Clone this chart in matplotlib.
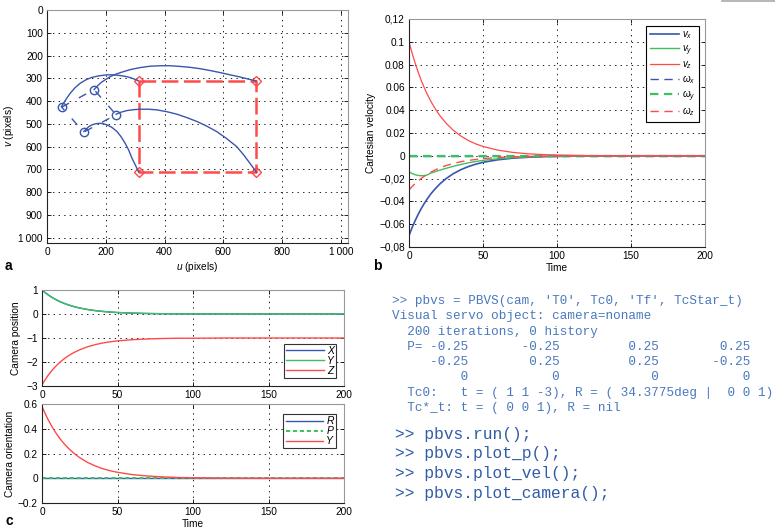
import numpy as np
import matplotlib.pyplot as plt
from matplotlib.lines import Line2D

plt.rcParams['font.family'] = ['Liberation Sans', 'DejaVu Sans']
plt.rcParams['mathtext.fontset'] = 'custom'
plt.rcParams['mathtext.rm'] = 'Liberation Sans'
plt.rcParams['mathtext.it'] = 'Liberation Sans:italic'
plt.rcParams['lines.scale_dashes'] = False
plt.rcParams['font.size'] = 7

# colores
azul = '#3a55ae'
verde = '#3cc060'
rojo = '#ff4a4a'

# ---- datos panel a (plano imagen) ----
p_final_u = [312, 712, 712, 312, 312]
p_final_v = [312, 312, 712, 712, 312]
p_ini_u = [50, 160, 235, 125, 50]
p_ini_v = [427, 350, 460, 537, 427]

tray1_u = [49, 55, 65, 79, 95, 113, 132, 153, 178, 204, 228, 249, 267, 283, 298, 312]
tray1_v = [425, 412, 392, 366, 342, 322, 307, 296, 289, 285, 285, 288, 292, 297, 304, 312]
tray2_u = [160, 172, 185, 200, 215, 232, 250, 283, 317, 351, 385, 419, 453, 487, 521, 555, 589,
           623, 652, 680, 712]
tray2_v = [350, 333, 318, 305, 293, 283, 275, 262, 253, 247, 245, 245, 248, 252, 258, 266, 275,
           285, 293, 302, 312]
tray3_u = [125, 133, 140, 147, 153, 162, 170, 181, 192, 204, 221, 238, 252, 266, 278, 289, 300, 312]
tray3_v = [534, 524, 515, 509, 505, 501, 499, 498, 500, 505, 516, 534, 557, 586, 616, 651, 680, 712]
tray4_u = [235, 252, 272, 295, 317, 345, 374, 408, 442, 476, 510, 543, 577, 611, 645, 668, 690, 712]
tray4_v = [458, 449, 442, 438, 436, 436, 439, 447, 458, 473, 490, 510, 534, 565, 600, 635, 673, 712]

# ---- datos panel b y c (tiempo) ----
t = [0, 2, 4, 6, 8, 10, 12, 15, 18, 21, 25, 30, 35, 40, 45, 50, 60, 70, 80, 90, 100, 120, 150, 200]
vx = [-0.07, -0.0633, -0.0573, -0.0519, -0.0469, -0.0425, -0.0384, -0.033, -0.0285, -0.0245, -0.0201,
      -0.0156, -0.0122, -0.0095, -0.0074, -0.0057, -0.0035, -0.0021, -0.0013, -0.0008, -0.0005, -0.0002, 0, 0]
vy = [-0.014, -0.0155, -0.0165, -0.0172, -0.0175, -0.0174, -0.017, -0.015, -0.0138, -0.0125, -0.011,
      -0.0092, -0.0076, -0.0062, -0.005, -0.004, -0.0026, -0.0016, -0.001, -0.0006, -0.0004, -0.0002, 0, 0]
vz = [0.1, 0.0905, 0.0819, 0.0741, 0.067, 0.0607, 0.0549, 0.0472, 0.0407, 0.035, 0.0287, 0.0223,
      0.0174, 0.0135, 0.0105, 0.0082, 0.005, 0.003, 0.0018, 0.0011, 0.0007, 0.0002, 0, 0]
wx = [0] * len(t)
wy = [0] * len(t)
wz = [-0.03, -0.0271, -0.0246, -0.0222, -0.0201, -0.0182, -0.0165, -0.0142, -0.0122, -0.0105, -0.0086,
      -0.0067, -0.0052, -0.0041, -0.0032, -0.0025, -0.0015, -0.0009, -0.0005, -0.0003, -0.0002, -0.0001, 0, 0]

pos_x = [1, 0.895, 0.801, 0.717, 0.641, 0.574, 0.513, 0.435, 0.368, 0.311, 0.249, 0.189,
         0.143, 0.108, 0.082, 0.062, 0.036, 0.020, 0.012, 0.007, 0.004, 0.001, 0, 0]
pos_y = pos_x
pos_z = [-2.95, -2.75, -2.56, -2.40, -2.25, -2.12, -2.00, -1.85, -1.72, -1.61, -1.49, -1.37,
         -1.28, -1.21, -1.16, -1.12, -1.07, -1.04, -1.02, -1.01, -1.01, -1.0, -1.0, -1.0]
ori_r = [0] * len(t)
ori_p = [0] * len(t)
ori_y = [0.58, 0.525, 0.475, 0.43, 0.389, 0.352, 0.318, 0.274, 0.236, 0.203, 0.166, 0.129,
         0.101, 0.078, 0.061, 0.048, 0.029, 0.018, 0.011, 0.006, 0.004, 0.001, 0, 0]

# texto de la consola
consola = [
    ">> pbvs = PBVS(cam, 'T0', Tc0, 'Tf', TcStar_t)",
    "Visual servo object: camera=noname",
    "  200 iterations, 0 history",
    "  P= -0.25       -0.25         0.25        0.25",
    "     -0.25        0.25         0.25       -0.25",
    "         0           0            0           0",
    "  Tc0:   t = ( 1 1 -3), R = ( 34.3775deg |  0 0 1)",
    "  Tc*_t: t = ( 0 0 1), R = nil",
]
comandos = [">> pbvs.run();", ">> pbvs.plot_p();", ">> pbvs.plot_vel();", ">> pbvs.plot_camera();"]

W, H = 775, 529


def caja(x0, y0, x1, y1):
    # caja en pixeles (arriba-izquierda) -> rect de figura
    return [x0 / W, 1 - y1 / H, (x1 - x0) / W, (y1 - y0) / H]


def estilo(ax):
    for s in ['left', 'bottom']:
        ax.spines[s].set_color('#222222')
    for s in ['top', 'right']:
        ax.spines[s].set_color('#999999')
    for s in ax.spines.values():
        s.set_linewidth(0.8)
    ax.tick_params(direction='in', length=3, width=0.6, top=True, right=True,
                   labelsize=7.3, pad=3)
    ax.grid(True, linestyle=(0, (1, 3)), color='k', linewidth=0.6)


fig = plt.figure(figsize=(7.75, 5.29), dpi=100)

# ---------------- panel a ----------------
ax = fig.add_axes(caja(47, 10, 348, 243))
ax.plot(p_final_u, p_final_v, color=rojo, lw=1.8, dashes=(12, 4))
ax.plot(p_final_u[:4], p_final_v[:4], 'D', mfc='none', mec=rojo, ms=5, mew=1)
ax.plot(p_ini_u, p_ini_v, color=azul, lw=1.0, dashes=(6, 8), dash_capstyle='butt')
ax.plot(p_ini_u[:4], p_ini_v[:4], 'o', mfc='none', mec=azul, ms=6, mew=1)
for uu, vv in [(tray1_u, tray1_v), (tray2_u, tray2_v), (tray3_u, tray3_v), (tray4_u, tray4_v)]:
    ax.plot(uu, vv, color=azul, lw=1.0)
ax.set_xlim(0, 1024)
ax.set_ylim(1024, 0)
ax.set_xticks([0, 200, 400, 600, 800, 1000])
ax.set_xticklabels(['0', '200', '400', '600', '800', '1\u2009000'])
ax.set_yticks(range(0, 1001, 100))
ax.set_yticklabels([str(v) for v in range(0, 901, 100)] + ['1\u2009000'])
estilo(ax)
ax.set_xlabel('$u$ (pixels)', fontsize=7.3, labelpad=2)
ax.set_ylabel('$v$ (pixels)', fontsize=7.3, labelpad=2)

# ---------------- panel b ----------------
ax = fig.add_axes(caja(409, 19, 705, 247))
ax.plot(t, wx, color=azul, lw=1.0, dashes=(6, 4), label=r'$\omega_x$')
ax.plot(t, wy, color=verde, lw=1.6, dashes=(6, 4), label=r'$\omega_y$')
ax.plot(t, vx, color=azul, lw=1.2, label='$v_x$')
ax.plot(t, vy, color=verde, lw=1.0, label='$v_y$')
ax.plot(t, vz, color=rojo, lw=0.9, label='$v_z$')
ax.plot(t, wz, color=rojo, lw=1.0, dashes=(6, 4), label=r'$\omega_z$')
ax.set_xlim(0, 200)
ax.set_ylim(-0.08, 0.12)
ax.set_xticks([0, 50, 100, 150, 200])
yt = [-0.08, -0.06, -0.04, -0.02, 0, 0.02, 0.04, 0.06, 0.08, 0.1, 0.12]
ax.set_yticks(yt)
ax.set_yticklabels(['\u22120,08', '\u22120.06', '\u22120.04', '\u22120,02', '0', '0.02',
                    '0.04', '0.06', '0.08', '0.1', '0,12'])
estilo(ax)
ax.set_xlabel('Time', fontsize=7.3, labelpad=1)
ax.set_ylabel('Cartesian velocity', fontsize=7.3, labelpad=2)
hnd, lab = ax.get_legend_handles_labels()
orden = [2, 3, 4, 0, 1, 5]
leg = ax.legend([hnd[i] for i in orden], [lab[i] for i in orden], loc='upper right',
                bbox_to_anchor=(0.995, 0.99), fontsize=7, fancybox=False, edgecolor='k',
                framealpha=1, handlelength=3.0, labelspacing=0.2, borderpad=0.35,
                handletextpad=0.3)
leg.get_frame().set_linewidth(0.8)

# ---------------- panel c (posicion) ----------------
ax = fig.add_axes(caja(42, 290, 344, 386))
ax.plot(t, pos_x, color=azul, lw=1.0, label='X')
ax.plot(t, pos_y, color=verde, lw=1.0, label='Y')
ax.plot(t, pos_z, color=rojo, lw=1.0, label='Z')
ax.set_xlim(0, 200)
ax.set_ylim(-3, 1)
ax.set_xticks([0, 50, 100, 150, 200])
ax.set_yticks([-3, -2, -1, 0, 1])
ax.set_yticklabels(['\u22123', '\u22122', '\u22121', '0', '1'])
estilo(ax)
ax.set_ylabel('Camera position', fontsize=7.3, labelpad=4)
leg = ax.legend(loc='lower right', bbox_to_anchor=(0.99, 0.03),
                prop={'style': 'italic', 'size': 7.5}, fancybox=False,
                edgecolor='#333333', framealpha=1, handlelength=3.6, labelspacing=0.0,
                borderpad=0.2, handletextpad=0.3)
leg.get_frame().set_linewidth(0.8)

# ---------------- panel c (orientacion) ----------------
ax = fig.add_axes(caja(42, 404, 344, 503))
ax.plot(t, ori_r, color=azul, lw=1.0, label='R')
ax.plot(t, ori_p, color=verde, lw=1.4, dashes=(3, 2), label='P')
ax.plot(t, ori_y, color=rojo, lw=1.0, label='Y')
ax.set_xlim(0, 200)
ax.set_ylim(-0.2, 0.6)
ax.set_xticks([0, 50, 100, 150, 200])
ax.set_yticks([-0.2, 0, 0.2, 0.4, 0.6])
ax.set_yticklabels(['\u22120.2', '0', '0.2', '0.4', '0.6'])
estilo(ax)
ax.set_xlabel('Time', fontsize=7.3, labelpad=1)
ax.set_ylabel('Camera orientation', fontsize=7.3, labelpad=2)
leg = ax.legend(loc='upper right', bbox_to_anchor=(0.99, 0.95),
                prop={'style': 'italic', 'size': 7.5}, fancybox=False,
                edgecolor='#333333', framealpha=1, handlelength=3.6, labelspacing=0.0,
                borderpad=0.2, handletextpad=0.3)
leg.get_frame().set_linewidth(0.8)

# letras de los paneles
fig.text(5 / W, 1 - 266 / H, 'a', fontsize=10, fontweight='bold', va='center')
fig.text(373 / W, 1 - 266 / H, 'b', fontsize=10, fontweight='bold', va='center')
fig.text(5 / W, 1 - 521 / H, 'c', fontsize=10, fontweight='bold', va='center')

# consola
for i, linea in enumerate(consola):
    fig.text(392 / W, 1 - (301 + 15.3 * i) / H, linea, family='Liberation Mono',
             fontsize=9.1, color='#4a78bf', va='center')
for i, linea in enumerate(comandos):
    fig.text(395 / W, 1 - (434 + 19.7 * i) / H, linea, family='Liberation Mono',
             fontsize=11.7, color='#2f5ca8', va='center')

# linea gris arriba a la derecha
fig.add_artist(Line2D([722 / W, 1], [1 - 1 / H, 1 - 1 / H], color='#aaaaaa', lw=1.2))

fig.savefig('out.png', dpi=100)
